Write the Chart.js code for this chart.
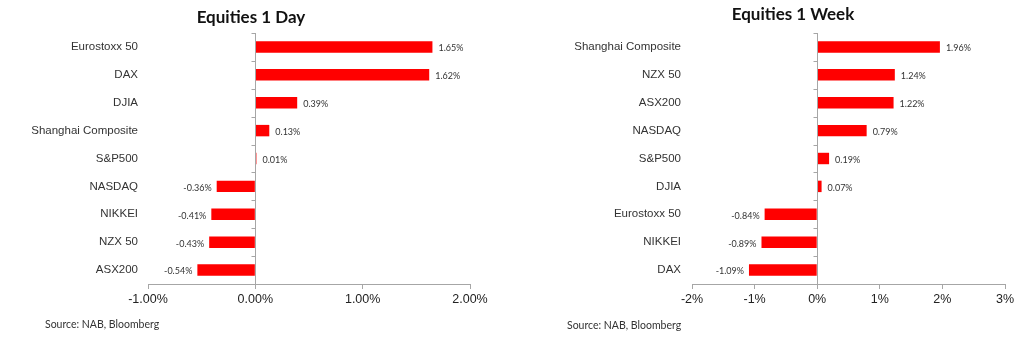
<!DOCTYPE html>
<html>
<head>
<meta charset="utf-8">
<script src="https://cdn.jsdelivr.net/npm/chart.js@4"></script>
<style>
    body { margin: 0; width: 1024px; height: 341px; overflow: hidden; position: relative; background: #fff; }
    canvas { position: absolute; top: 0; }
    #dayChart { left: 0; }
    #weekChart { left: 530px; }
    .title { position: absolute; width: 300px; text-align: center; font: bold 17px/17px Lato, sans-serif; color: #111; }
    .source { position: absolute; font: 10.5px Lato, sans-serif; color: #333; }
</style>
</head>
<body>
<canvas id="dayChart" width="502" height="341"></canvas>
<canvas id="weekChart" width="526" height="341"></canvas>
<div class="title" style="left:101px; top:8px;">Equities 1 Day</div>
<div class="title" style="left:643px; top:5px;">Equities 1 Week</div>
<div class="source" style="left:45px; top:318px;">Source: NAB, Bloomberg</div>
<div class="source" style="left:567px; top:319px;">Source: NAB, Bloomberg</div>
<script>
// Data for the 1 day chart
const dayLabels = ['Eurostoxx 50', 'DAX', 'DJIA', 'Shanghai Composite', 'S&P500', 'NASDAQ', 'NIKKEI', 'NZX 50', 'ASX200'];
const dayValues = [1.65, 1.62, 0.39, 0.13, 0.01, -0.36, -0.41, -0.43, -0.54];
const dayTicks = [-1, 0, 1, 2];

// Data for the 1 week chart
const weekLabels = ['Shanghai Composite', 'NZX 50', 'ASX200', 'NASDAQ', 'S&P500', 'DJIA', 'Eurostoxx 50', 'NIKKEI', 'DAX'];
const weekValues = [1.96, 1.24, 1.22, 0.79, 0.19, 0.07, -0.84, -0.89, -1.09];
const weekTicks = [-2, -1, 0, 1, 2, 3];

const axisGrey = '#a6a6a6';

// Draws the zero line with its little category ticks, plus value labels next to bars
const barExtras = {
    id: 'barExtras',
    afterDatasetsDraw(chart) {
        const ctx = chart.ctx;
        const area = chart.chartArea;
        const xs = chart.scales.x;
        const ys = chart.scales.y;
        const x0 = Math.round(xs.getPixelForValue(0)) + 0.5;
        const n = chart.data.labels.length;

        ctx.save();
        ctx.strokeStyle = axisGrey;
        ctx.lineWidth = 1;
        ctx.beginPath();
        ctx.moveTo(x0, area.top);
        ctx.lineTo(x0, area.bottom);
        for (let i = 0; i <= n; i++) { // tick marks between categories
            const y = Math.round(ys.getPixelForValue(i - 0.5)) + 0.5;
            ctx.moveTo(x0 - 4, y);
            ctx.lineTo(x0, y);
        }
        ctx.stroke();

        // value labels
        ctx.font = '9px Lato, sans-serif';
        ctx.fillStyle = '#333';
        ctx.textBaseline = 'middle';
        const values = chart.data.datasets[0].data;
        chart.getDatasetMeta(0).data.forEach(function (bar, i) {
            const v = values[i];
            const text = v.toFixed(2) + '%';
            if (v >= 0) {
                ctx.textAlign = 'left';
                ctx.fillText(text, bar.x + 6, bar.y + 1.5);
            } else {
                ctx.textAlign = 'right';
                ctx.fillText(text, bar.x - 5, bar.y + 1.5);
            }
        });
        ctx.restore();
    }
};

// Builds one horizontal bar chart
function makeChart(id, labels, values, ticks, tickFormat, yWidth, labelPad, rightPad) {
    return new Chart(document.getElementById(id), {
        type: 'bar',
        data: {
            labels: labels,
            datasets: [{
                data: values,
                backgroundColor: '#ff0000',
                borderWidth: 0,
                barPercentage: 0.41,
                categoryPercentage: 1
            }]
        },
        options: {
            indexAxis: 'y',
            responsive: false,
            animation: false,
            layout: { padding: { left: 0, right: rightPad, top: 33, bottom: 31 } },
            scales: {
                x: {
                    min: ticks[0],
                    max: ticks[ticks.length - 1],
                    afterBuildTicks: function (scale) {
                        scale.ticks = ticks.map(v => ({ value: v }));
                    },
                    ticks: {
                        callback: tickFormat,
                        color: '#222',
                        font: { family: 'Liberation Sans', size: 12.5 },
                        padding: 3,
                        maxRotation: 0
                    },
                    grid: { drawOnChartArea: false, tickLength: 5, color: axisGrey },
                    border: { display: true, color: axisGrey }
                },
                y: {
                    afterFit: function (scale) { scale.width = yWidth; },
                    ticks: {
                        color: '#333',
                        font: { family: 'Liberation Sans', size: 11.5 },
                        padding: labelPad
                    },
                    grid: { display: false },
                    border: { display: false }
                }
            },
            plugins: {
                legend: { display: false },
                tooltip: { enabled: false },
                title: { display: false }
            }
        },
        plugins: [barExtras]
    });
}

makeChart('dayChart', dayLabels, dayValues, dayTicks,
    v => v.toFixed(2) + '%', 148, 2, 32);
makeChart('weekChart', weekLabels, weekValues, weekTicks,
    v => v + '%', 162, 3, 51);
</script>
</body>
</html>
